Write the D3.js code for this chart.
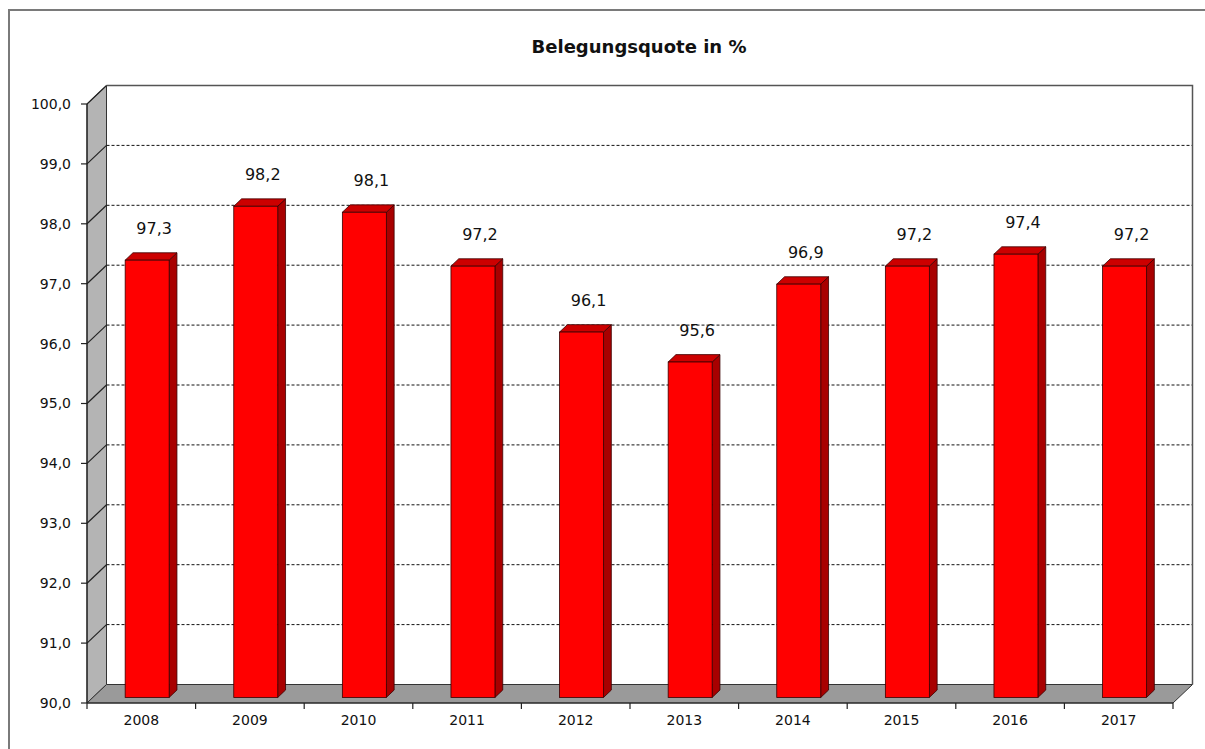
<!DOCTYPE html>
<html>
<head>
<meta charset="utf-8">
<script src="https://cdn.jsdelivr.net/npm/d3@7"></script>
<style>
  html, body { margin: 0; padding: 0; background: #fff; }
  svg { display: block; }
</style>
</head>
<body>
<div id="chart"></div>
<script>
// ── Daten ──
const years = ["2008", "2009", "2010", "2011", "2012", "2013", "2014", "2015", "2016", "2017"];
const quote = [97.3, 98.2, 98.1, 97.2, 96.1, 95.6, 96.9, 97.2, 97.4, 97.2];
const yTicks = [90, 91, 92, 93, 94, 95, 96, 97, 98, 99, 100];
const title = "Belegungsquote in %";

const width = 1205, height = 749;
const DX = 19.5, DY = -18.5;          // Tiefe der 3D-Ebene
const d0 = 0.3, d1 = 0.7;            // Saeulen-Tiefe (Anteil)
const fmt = v => d3.format(".1f")(v).replace(".", ",");

const svg = d3.select("#chart").append("svg")
  .attr("width", width).attr("height", height)
  .attr("viewBox", [0, 0, width, height]);

// Rahmen
svg.append("rect")
  .attr("x", 9).attr("y", 10).attr("width", width + 20).attr("height", height + 20)
  .attr("fill", "#fff").attr("stroke", "#7a7a7a").attr("stroke-width", 2);

const x = d3.scaleBand().domain(years).range([87, 1173]).paddingInner(0.595).paddingOuter(0.2975);
const y = d3.scaleLinear().domain([90, 100]).range([703, 104]);
const x0 = x.range()[0], x1 = x.range()[1];

// Rueckwand
svg.append("rect")
  .attr("x", x0 + DX).attr("y", y(100) + DY)
  .attr("width", x1 - x0).attr("height", y(90) - y(100))
  .attr("fill", "#fff");

// Seitenwand
svg.append("path")
  .attr("d", `M${x0},${y(90)}L${x0},${y(100)}L${x0 + DX},${y(100) + DY}L${x0 + DX},${y(90) + DY}Z`)
  .attr("fill", "#b4b4b4").attr("stroke", "#333").attr("stroke-width", 1);

// Boden
svg.append("path")
  .attr("d", `M${x0},${y(90)}L${x0 + DX},${y(90) + DY}L${x1 + DX},${y(90) + DY}L${x1},${y(90)}Z`)
  .attr("fill", "#9a9a9a").attr("stroke", "#333").attr("stroke-width", 1);

// Gitterlinien
svg.append("g")
  .selectAll("line").data(yTicks.filter(v => v > 90 && v < 100)).join("line")
  .attr("x1", x0 + DX).attr("x2", x1 + DX)
  .attr("y1", d => y(d) + DY).attr("y2", d => y(d) + DY)
  .attr("stroke", "#111").attr("stroke-width", 1).attr("stroke-dasharray", "3,2");

svg.append("g")
  .selectAll("line").data(yTicks.filter(v => v > 90)).join("line")
  .attr("x1", x0).attr("x2", x0 + DX)
  .attr("y1", d => y(d)).attr("y2", d => y(d) + DY)
  .attr("stroke", "#222").attr("stroke-width", 1.2);

// Rueckwand-Kontur oben/rechts
svg.append("path")
  .attr("d", `M${x0 + DX},${y(100) + DY}H${x1 + DX}V${y(90) + DY}`)
  .attr("fill", "none").attr("stroke", "#555").attr("stroke-width", 1.5);

// Saeulen
const bars = svg.append("g")
  .selectAll("g").data(years.map((k, i) => ({ k, v: quote[i] }))).join("g");

const fx = d => x(d.k) + DX * d0;
const fy = d => y(d.v) + DY * d0;
const fb = y(90) + DY * d0;
const bw = x.bandwidth();
const ox = DX * (d1 - d0), oy = DY * (d1 - d0);

bars.append("path")   // Seite
  .attr("d", d => `M${fx(d) + bw},${fb}V${fy(d)}l${ox},${oy}V${fb + oy}Z`)
  .attr("fill", "#a80000").attr("stroke", "#3a0000").attr("stroke-width", 0.8);

bars.append("path")   // Deckel
  .attr("d", d => `M${fx(d)},${fy(d)}l${ox},${oy}h${bw}l${-ox},${-oy}Z`)
  .attr("fill", "#cc0000").attr("stroke", "#3a0000").attr("stroke-width", 0.8);

bars.append("rect")   // Front
  .attr("x", fx).attr("y", fy)
  .attr("width", bw).attr("height", d => fb - fy(d))
  .attr("fill", "#ff0000").attr("stroke", "#3a0000").attr("stroke-width", 0.8);

bars.append("text")
  .attr("x", d => fx(d) + bw / 2 + 7)
  .attr("y", d => fy(d) - 26)
  .attr("text-anchor", "middle")
  .attr("font-family", "'DejaVu Sans', Verdana, sans-serif")
  .attr("font-size", "16px").attr("fill", "#111")
  .text(d => fmt(d.v));

// Y-Achse
svg.append("line")
  .attr("x1", x0).attr("x2", x0).attr("y1", y(90)).attr("y2", y(100))
  .attr("stroke", "#222").attr("stroke-width", 1.2);
const yAxis = svg.append("g");
yAxis.selectAll("line").data(yTicks).join("line")
  .attr("x1", x0 - 6).attr("x2", x0).attr("y1", d => y(d)).attr("y2", d => y(d))
  .attr("stroke", "#222").attr("stroke-width", 1.2);
yAxis.selectAll("text").data(yTicks).join("text")
  .attr("x", 71).attr("y", d => y(d)).attr("dy", "0.35em")
  .attr("text-anchor", "end")
  .attr("font-family", "'DejaVu Sans', Verdana, sans-serif")
  .attr("font-size", "14px").attr("fill", "#111")
  .text(fmt);

// X-Achse
svg.append("line")
  .attr("x1", x0).attr("x2", x1).attr("y1", y(90)).attr("y2", y(90))
  .attr("stroke", "#222").attr("stroke-width", 1.2);
const bounds = years.map(k => x(k) - x.step() * x.paddingInner() / 2).concat([x1]);
svg.append("g").selectAll("line").data(bounds).join("line")
  .attr("x1", d => d).attr("x2", d => d).attr("y1", y(90)).attr("y2", y(90) + 6)
  .attr("stroke", "#222").attr("stroke-width", 1.2);
svg.append("g").selectAll("text").data(years).join("text")
  .attr("x", d => x(d) + bw / 2).attr("y", y(90) + 22)
  .attr("text-anchor", "middle")
  .attr("font-family", "'DejaVu Sans', Verdana, sans-serif")
  .attr("font-size", "14px").attr("fill", "#111")
  .text(d => d);

// Titel
svg.append("text")
  .attr("x", 639).attr("y", 53)
  .attr("text-anchor", "middle")
  .attr("font-family", "'DejaVu Sans', Verdana, sans-serif")
  .attr("font-weight", "bold").attr("font-size", "18px").attr("fill", "#111")
  .text(title);
</script>
</body>
</html>
